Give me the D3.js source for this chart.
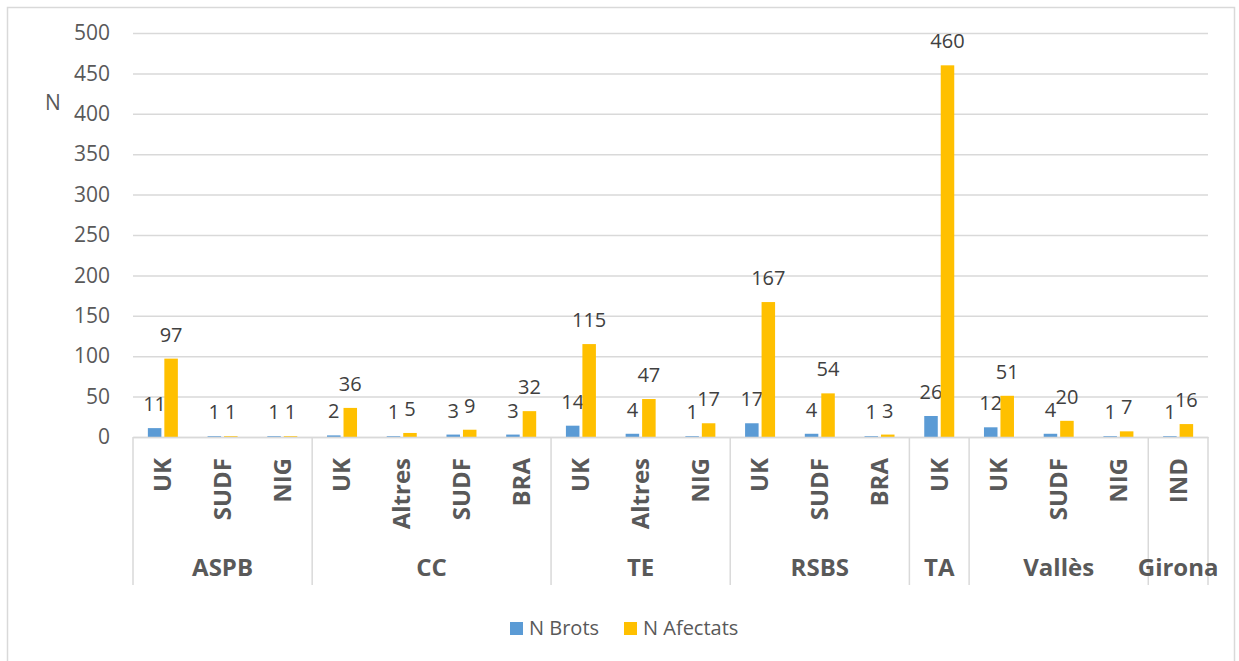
<!DOCTYPE html>
<html>
<head>
<meta charset="utf-8">
<script src="https://cdn.jsdelivr.net/npm/d3@7"></script>
<style>
    body { margin: 0; background: #fff; }
    svg { font-family: "Open Sans", sans-serif; }
</style>
</head>
<body>
<div id="chart"></div>
<script>
// Chart data
const categories = ['UK', 'SUDF', 'NIG', 'UK', 'Altres', 'SUDF', 'BRA', 'UK', 'Altres', 'NIG',
    'UK', 'SUDF', 'BRA', 'UK', 'UK', 'SUDF', 'NIG', 'IND'];
const categoryGroups = ['ASPB', 'ASPB', 'ASPB', 'CC', 'CC', 'CC', 'CC', 'TE', 'TE', 'TE',
    'RSBS', 'RSBS', 'RSBS', 'TA', 'Vallès', 'Vallès', 'Vallès', 'Girona'];
const nBrots = [11, 1, 1, 2, 1, 3, 3, 14, 4, 1, 17, 4, 1, 26, 12, 4, 1, 1];
const nAfectats = [97, 1, 1, 36, 5, 9, 32, 115, 47, 17, 167, 54, 3, 460, 51, 20, 7, 16];
const seriesNames = ['N Brots', 'N Afectats'];
const seriesColors = ['#5B9BD5', '#FFC000'];
const yTicks = [0, 50, 100, 150, 200, 250, 300, 350, 400, 450, 500];

function drawChart() {
    const width = 1239;
    const height = 661;
    const plot = { left: 133, right: 1208, top: 33, bottom: 437 };

    d3.select('#chart').selectAll('*').remove();

    const svg = d3.select('#chart')
        .append('svg')
        .attr('width', width)
        .attr('height', height);

    // Outer chart border
    svg.append('rect')
        .attr('x', 7.5)
        .attr('y', 7.5)
        .attr('width', 1227)
        .attr('height', 700)
        .attr('fill', 'none')
        .attr('stroke', '#D9D9D9')
        .attr('stroke-width', 1.5);

    // Scales
    const x = d3.scaleBand()
        .domain(d3.range(categories.length))
        .range([plot.left, plot.right])
        .padding(0);

    const xSeries = d3.scaleBand()
        .domain(seriesNames)
        .range([-15, 15])
        .paddingInner(0.18);

    const y = d3.scaleLinear()
        .domain([0, 500])
        .range([plot.bottom, plot.top]);

    // Y axis with gridlines
    const yAxis = svg.append('g')
        .attr('transform', `translate(${plot.left},0)`)
        .call(d3.axisLeft(y)
            .tickValues(yTicks)
            .tickSize(-(plot.right - plot.left))
            .tickPadding(23));

    yAxis.select('.domain').remove();
    yAxis.selectAll('line')
        .attr('stroke', '#D9D9D9')
        .attr('stroke-width', 1.5);
    yAxis.selectAll('text')
        .attr('fill', '#595959')
        .style('font-size', '21px')
        .style('font-family', '"Open Sans", sans-serif');

    // Y axis title
    svg.append('text')
        .attr('x', 53)
        .attr('y', 103)
        .attr('dy', '0.35em')
        .attr('text-anchor', 'middle')
        .attr('fill', '#595959')
        .style('font-size', '21px')
        .text('N');

    // Bars
    const series = [nBrots, nAfectats];
    series.forEach((values, s) => {
        const name = seriesNames[s];
        svg.append('g')
            .selectAll('rect')
            .data(values)
            .join('rect')
            .attr('x', (d, i) => x(i) + x.bandwidth() / 2 + xSeries(name))
            .attr('y', d => y(d))
            .attr('width', xSeries.bandwidth())
            .attr('height', d => y(0) - y(d))
            .attr('fill', seriesColors[s]);

        // Data labels above each bar
        svg.append('g')
            .selectAll('text')
            .data(values)
            .join('text')
            .attr('x', (d, i) => x(i) + x.bandwidth() / 2 + xSeries(name) + xSeries.bandwidth() / 2)
            .attr('y', d => y(d) - 17)
            .attr('text-anchor', 'middle')
            .attr('fill', '#404040')
            .style('font-size', '20px')
            .text(d => d);
    });

    // Category axis (first level labels, rotated)
    const xAxis = svg.append('g')
        .attr('transform', `translate(0,${plot.bottom})`)
        .call(d3.axisBottom(x)
            .tickSize(0)
            .tickFormat(i => categories[i]));

    xAxis.select('.domain')
        .attr('stroke', '#D9D9D9')
        .attr('stroke-width', 1.5);
    xAxis.selectAll('text')
        .attr('transform', 'rotate(-90)')
        .attr('x', -21)
        .attr('y', 0)
        .attr('dy', '0.35em')
        .attr('text-anchor', 'end')
        .attr('fill', '#595959')
        .style('font-size', '24px')
        .style('font-weight', 'bold')
        .style('font-family', '"Open Sans", sans-serif');

    // Group spans (second level)
    const groupSpans = [];
    categoryGroups.forEach((g, i) => {
        const last = groupSpans[groupSpans.length - 1];
        if (last && last.name === g) {
            last.end = i;
        } else {
            groupSpans.push({ name: g, start: i, end: i });
        }
    });

    const sepBottom = 585;
    const boundaries = [plot.left].concat(groupSpans.map(g => x(g.end) + x.bandwidth()));

    svg.append('g')
        .selectAll('line')
        .data(boundaries)
        .join('line')
        .attr('x1', d => d)
        .attr('x2', d => d)
        .attr('y1', plot.bottom)
        .attr('y2', sepBottom)
        .attr('stroke', '#D9D9D9')
        .attr('stroke-width', 1.5);

    svg.append('g')
        .selectAll('text')
        .data(groupSpans)
        .join('text')
        .attr('x', g => (x(g.start) + x(g.end) + x.bandwidth()) / 2)
        .attr('y', 576)
        .attr('text-anchor', 'middle')
        .attr('fill', '#595959')
        .style('font-size', '24px')
        .style('font-weight', 'bold')
        .text(g => g.name);

    // Legend
    const legendX = [510, 624];
    const legend = svg.append('g');
    seriesNames.forEach((name, s) => {
        legend.append('rect')
            .attr('x', legendX[s])
            .attr('y', 622)
            .attr('width', 13)
            .attr('height', 13)
            .attr('fill', seriesColors[s]);
        legend.append('text')
            .attr('x', legendX[s] + 19)
            .attr('y', 635)
            .attr('fill', '#595959')
            .style('font-size', '20px')
            .text(name);
    });
}

document.addEventListener('DOMContentLoaded', drawChart);
</script>
</body>
</html>
